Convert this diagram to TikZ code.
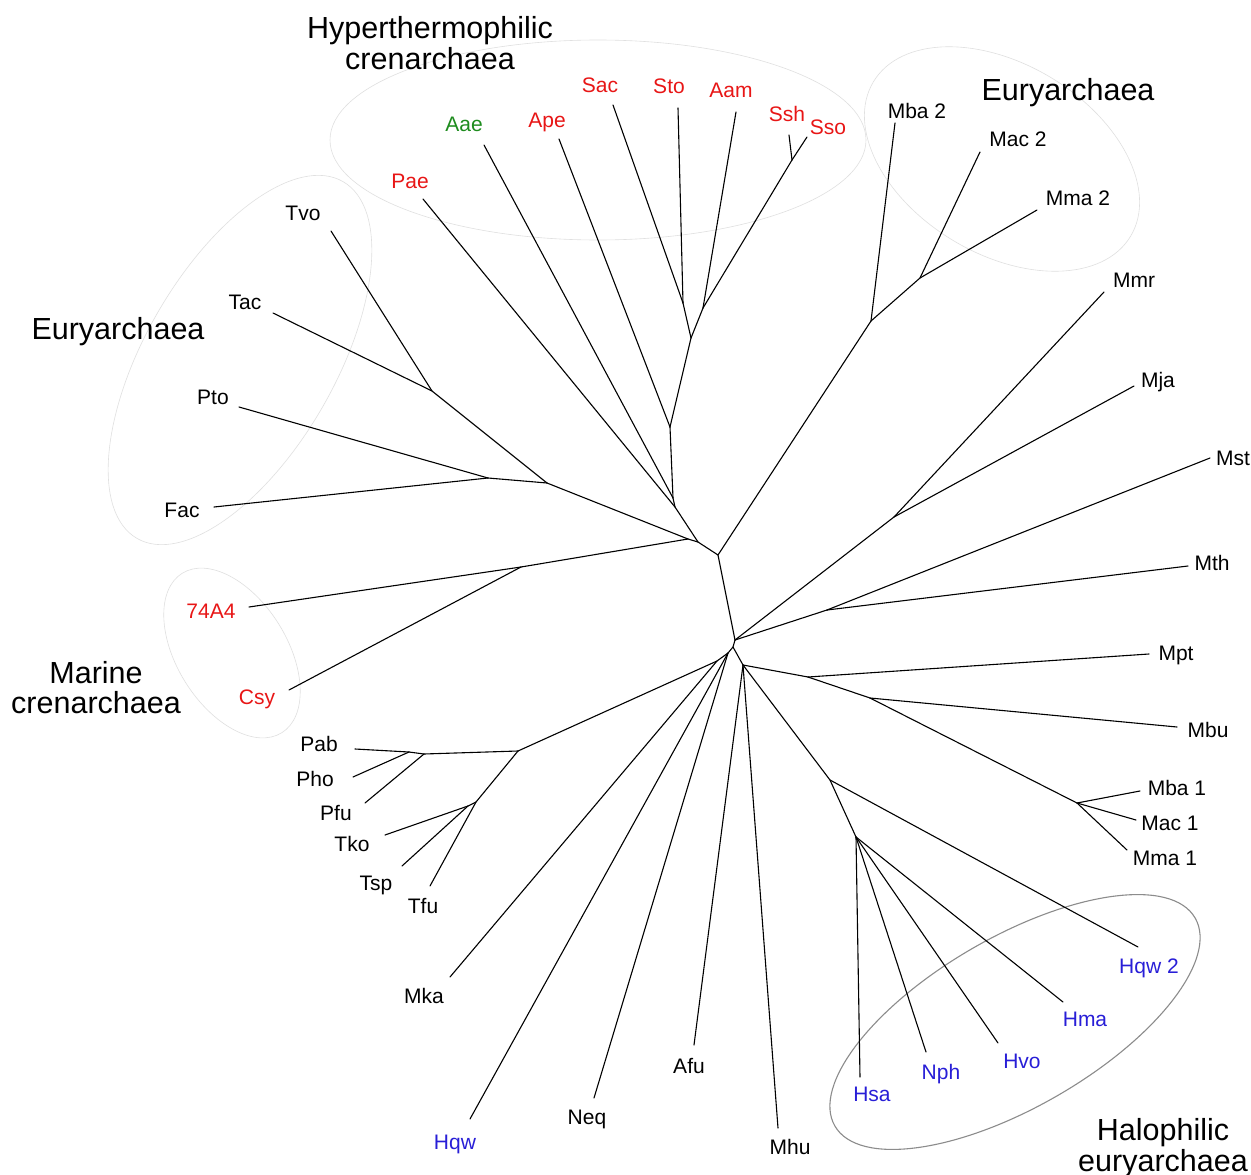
\documentclass[tikz,border=0pt]{standalone}
\usepackage{fontspec}
\setmainfont{Liberation Sans}
\definecolor{tred}{RGB}{232,22,22}
\definecolor{tgreen}{RGB}{30,140,30}
\definecolor{tblue}{RGB}{40,30,215}
\begin{document}
\begin{tikzpicture}[x=1pt,y=-1pt,
  br/.style={line width=1.1pt,line cap=round},
  leaf/.style={font=\fontsize{21}{24}\selectfont,inner sep=0pt,anchor=base},
  grp/.style={font=\fontsize{30.5}{31}\selectfont,inner sep=0pt,anchor=base},
  oval/.style={draw=black!12,line width=0.6pt},
  ovaldark/.style={draw=black!45,line width=1.1pt}]
\useasboundingbox (0,0) rectangle (1251,1175);
\fill[white] (0,0) rectangle (1251,1175);
% group ovals
\draw[oval] (598,140) ellipse [x radius=268pt,y radius=100pt];
\draw[oval,shift={(1002,159)},rotate=-31] (0,0) ellipse [x radius=150pt,y radius=95pt];
\draw[oval,shift={(240,360)},rotate=60] (0,0) ellipse [x radius=206pt,y radius=95pt];
\draw[oval,shift={(232,653)},rotate=-58] (0,0) ellipse [x radius=94pt,y radius=55pt];
\draw[ovaldark,shift={(1015,1022)},rotate=30] (0,0) ellipse [x radius=208pt,y radius=85pt];
% tips and internal nodes
\foreach \n/\x/\y in {
 tSac/613/105, tSto/678/108, tAam/736/112, tSsh/789/135, tSso/807/137,
 tApe/559/139, tAae/484/145, tPae/423/199,
 nSS/792/160, nCa/683/303, nCb/703/308, nCc/691/338, nCd/670/427,
 nCe/673/498, nCf/675/507, nHa/698/542,
 tTvo/331/231, tTac/273/313, nTa/432/391, tPto/239/407, tFac/214/507,
 nTb/488/478, nTc/547/483, nJ/688/539,
 tSfa/249/607, tCsy/289/690, nMar/521/567,
 nHb/718/555,
 tMbaB/895/123, tMacB/980/152, tMmaB/1037/210, nEb/920/278, nEa/871/321,
 tMmr/1104/292, tMja/1134/386, nMa/894/517,
 tMst/1210/458, tMth/1188/566, nMb/827/610, nHc/735/640,
 nHd/733/647, nKa/728/653, nKb/717/661,
 tPab/355/749, tPho/353/777, nPa/409/752, tPfu/365/803, nPb/424/754,
 tTko/385/835, tTsp/402/866, nPc/468/806, tTfu/430/886, nPd/476/802,
 nPe/518/751,
 tMka/450/977, tHqw/470/1119, tNeq/594/1098, tAfu/694/1045, tMhu/778/1128,
 nHe/743/665,
 nQa/808/677, tMpt/1149/654, nQb/870/698, tMbu/1177/727,
 nQc/1077/803, tMbaA/1140/791, tMacA/1136/820, tMmaA/1127/850,
 nRa/830/780, tHqwB/1138/947, nRb/856/837,
 tHsa/860/1077, tNph/926/1052, tHvo/998/1043, tHma/1063/1002}
 \coordinate (\n) at (\x,\y);
% branches
\foreach \a/\b in {
 tSac/nCa, tSto/nCa, tAam/nCb, tSsh/nSS, tSso/nSS, nSS/nCb,
 nCa/nCc, nCb/nCc, nCc/nCd, tApe/nCd, nCd/nCe, tAae/nCe, nCe/nCf,
 tPae/nCf, nCf/nHa,
 tTvo/nTa, tTac/nTa, nTa/nTc, tPto/nTb, tFac/nTb, nTb/nTc, nTc/nJ,
 tSfa/nMar, tCsy/nMar, nMar/nJ, nJ/nHa, nHa/nHb,
 tMbaB/nEa, tMacB/nEb, tMmaB/nEb, nEb/nEa, nEa/nHb,
 tMmr/nMa, tMja/nMa, nMa/nHc, tMst/nMb, tMth/nMb, nMb/nHc,
 nHb/nHc, nHc/nHd, nHd/nKa, nKa/nKb,
 tPab/nPa, tPho/nPa, nPa/nPb, tPfu/nPb, nPb/nPe,
 tTko/nPc, tTsp/nPc, nPc/nPd, tTfu/nPd, nPd/nPe, nPe/nKb,
 tMka/nKb, tHqw/nKa, tNeq/nKa,
 nHd/nHe, tAfu/nHe, tMhu/nHe,
 nHe/nQa, tMpt/nQa, nQa/nQb, tMbu/nQb, nQb/nQc,
 tMbaA/nQc, tMacA/nQc, tMmaA/nQc,
 nHe/nRa, tHqwB/nRa, nRa/nRb,
 tHsa/nRb, tNph/nRb, tHvo/nRb, tHma/nRb}
 \draw[br] (\a) -- (\b);
% leaf labels
\foreach \n/\x/\y/\t/\c in {
 Aae/464/131/Aae/tgreen, Ape/547/127/Ape/tred, Sac/600/92/Sac/tred,
 Sto/669/93/Sto/tred, Aam/731/97/Aam/tred, Ssh/787/121/Ssh/tred,
 Sso/828/134/Sso/tred, Pae/410/188/Pae/tred,
 MbaB/917/118/Mba 2/black, MacB/1018/146/Mac 2/black, MmaB/1078/205/Mma 2/black,
 Mmr/1134/287/Mmr/black, Mja/1158/387/Mja/black, Mst/1233/465/Mst/black,
 Mth/1212/570/Mth/black, Mpt/1176/660/Mpt/black, Mbu/1208/737/Mbu/black,
 MbaA/1177/795/Mba 1/black, MacA/1170/830/Mac 1/black, MmaA/1165/865/Mma 1/black,
 HqwB/1149/973/Hqw 2/tblue, Hma/1085/1026/Hma/tblue, Hvo/1022/1068/Hvo/tblue,
 Nph/941/1079/Nph/tblue, Hsa/872/1101/Hsa/tblue,
 Mhu/790/1154/Mhu/black, Afu/689/1073/Afu/black, Neq/587/1124/Neq/black,
 Hqw/455/1149/Hqw/tblue, Mka/424/1003/Mka/black,
 Tfu/423/913/Tfu/black, Tsp/376/890/Tsp/black, Tko/352/851/Tko/black,
 Pfu/336/820/Pfu/black, Pho/315/786/Pho/black, Pab/319/751/Pab/black,
 Sfa/211/618/74A4/tred, Csy/257/704/Csy/tred,
 Fac/182/517/Fac/black, Pto/213/404/Pto/black, Tac/245/309/Tac/black,
 Tvo/303/220/Tvo/black}
 \node[leaf,text=\c] (l\n) at (\x,\y) {\t};
% group labels
\node[grp] (gHa) at (430,38) {Hyperthermophilic};
\node[grp] (gHb) at (430,69) {crenarchaea};
\node[grp] (gEa) at (1068,100) {Euryarchaea};
\node[grp] (gEb) at (118,339) {Euryarchaea};
\node[grp] (gMa) at (96,683) {Marine};
\node[grp] (gMb) at (96,713) {crenarchaea};
\node[grp] (gLa) at (1163,1140) {Halophilic};
\node[grp] (gLb) at (1163,1171) {euryarchaea};
\end{tikzpicture}
\end{document}
